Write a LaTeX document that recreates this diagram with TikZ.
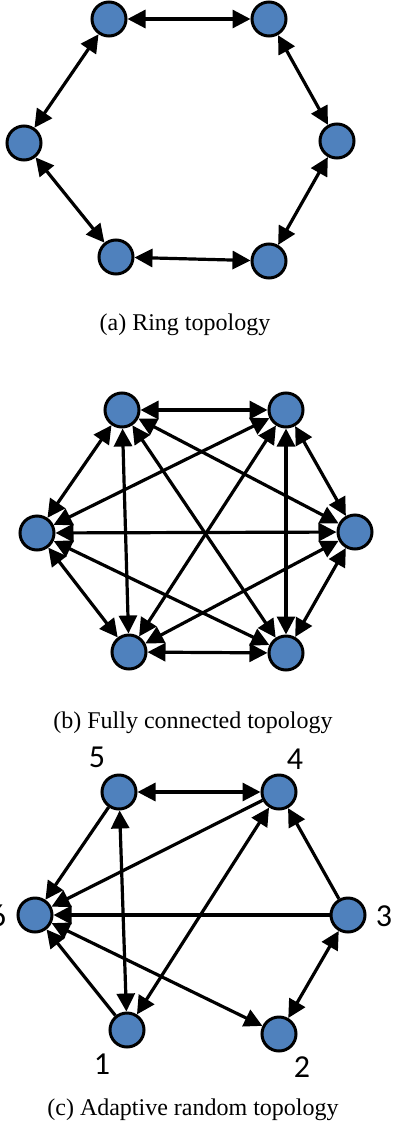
\documentclass[tikz,border=0pt]{standalone}
\usepackage{fontspec}
\setmainfont{Liberation Serif}
\newfontfamily\numfont{Carlito}
\usetikzlibrary{arrows.meta}
\definecolor{nodeblue}{RGB}{79,129,189}
\begin{document}
\begin{tikzpicture}
    [x=1pt, y=-1pt,
    agent/.style = {circle, draw=black, fill=nodeblue,
                    line width=3pt, minimum size=34pt, inner sep=0pt},
    link/.style = {line width=3.2pt,
                   {Triangle[length=18pt,width=18pt]}-{Triangle[length=18pt,width=18pt]}},
    flow/.style = {line width=3.2pt, -{Triangle[length=18pt,width=18pt]}},
    caption/.style = {font=\fontsize{24}{28}\selectfont},
    num/.style = {font=\numfont\fontsize{32}{36}\selectfont}]
    \useasboundingbox (0,0) rectangle (392,1127);
    % Ring
    \node[agent] (A1) at (109,19) {};
    \node[agent] (A2) at (269,19) {};
    \node[agent] (A3) at (337,141) {};
    \node[agent] (A4) at (269,261) {};
    \node[agent] (A5) at (116,257) {};
    \node[agent] (A6) at (24,143) {};
    \foreach \a/\b in {A1/A2,A2/A3,A3/A4,A4/A5,A5/A6,A6/A1}
        \draw[link] (\a) -- (\b);
    \node[caption] (capA) at (185,325) {(a) Ring topology};
    % Fully connected
    \node[agent] (B1) at (122,410) {};
    \node[agent] (B2) at (286,410) {};
    \node[agent] (B3) at (355,532) {};
    \node[agent] (B4) at (286,653) {};
    \node[agent] (B5) at (129,652) {};
    \node[agent] (B6) at (37,533) {};
    \foreach \i in {1,...,5}{
        \pgfmathtruncatemacro\k{\i+1}
        \foreach \j in {\k,...,6}
            \draw[link] (B\i) -- (B\j);
    }
    \node[caption] (capB) at (193,723) {(b) Fully connected topology};
    % Adaptive random
    \node[agent] (C1) at (127,1030) {};
    \node[agent] (C2) at (279,1034) {};
    \node[agent] (C3) at (348,915) {};
    \node[agent] (C4) at (279,792) {};
    \node[agent] (C5) at (119,792) {};
    \node[agent] (C6) at (35,915) {};
    \node[num] (n1) at (102,1064) {1};
    \node[num] (n2) at (302,1067) {2};
    \node[num] (n3) at (384,916) {3};
    \node[num] (n4) at (295,759) {4};
    \node[num] (n5) at (97,757) {5};
    \node[num] (n6) at (-2,916) {6};
    \foreach \a/\b in {C5/C4,C5/C1,C4/C1,C3/C2,C6/C2}
        \draw[link] (\a) -- (\b);
    \foreach \a/\b in {C5/C6,C4/C6,C3/C6,C1/C6,C3/C4}
        \draw[flow] (\a) -- (\b);
    \node[caption] (capC) at (193,1110) {(c) Adaptive random topology};
\end{tikzpicture}
\end{document}
